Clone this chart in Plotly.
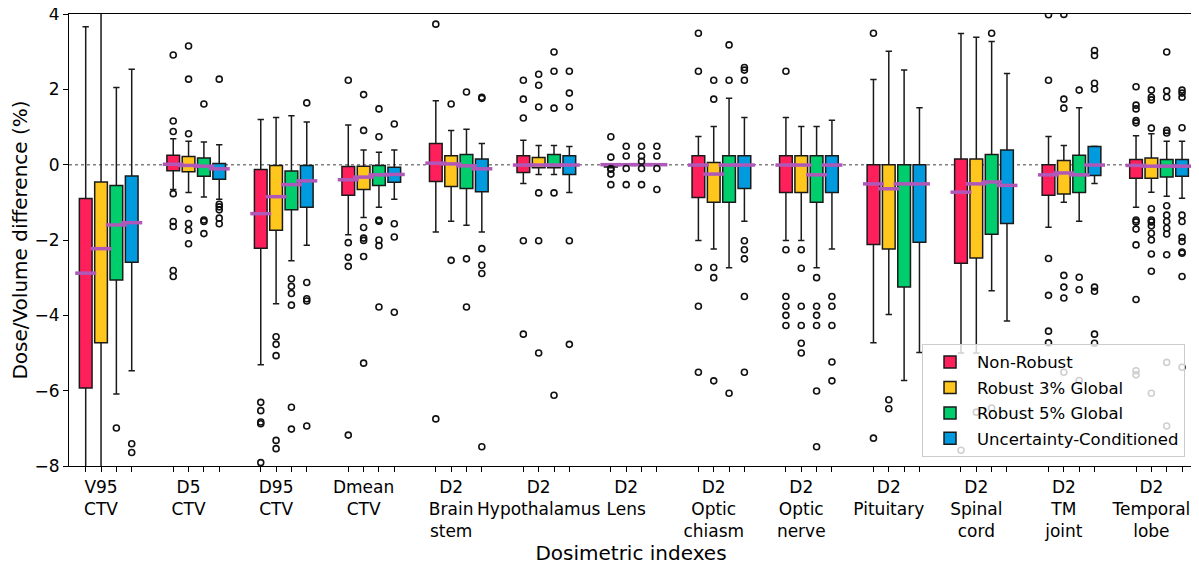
import plotly.graph_objects as go

categories = ["V95<br>CTV", "D5<br>CTV", "D95<br>CTV", "Dmean<br>CTV", "D2<br>Brain<br>stem",
              "D2<br>Hypothalamus", "D2<br>Lens", "D2<br>Optic<br>chiasm", "D2<br>Optic<br>nerve",
              "D2<br>Pituitary", "D2<br>Spinal<br>cord", "D2<br>TM<br>joint", "D2<br>Temporal<br>lobe"]

series_names = ["Non-Robust", "Robust 3% Global", "Robust 5% Global", "Uncertainty-Conditioned"]
series_colors = ["#FF1F5B", "#FFC61E", "#00CD6C", "#009ADE"]
median_color = "#AF58BA"

# Non-Robust
nr_hi = [3.66, 0.69, 1.20, 1.05, 1.70, 0.65, 0.0, 0.75, 1.25, 2.26, 3.48, 0.75, 0.77]
nr_q3 = [-0.90, 0.25, -0.13, -0.05, 0.56, 0.24, 0.0, 0.24, 0.24, 0.0, 0.15, 0.0, 0.14]
nr_med = [-2.88, 0.01, -1.30, -0.40, 0.04, -0.01, 0.0, -0.01, -0.01, -0.51, -0.73, -0.27, -0.02]
nr_q1 = [-5.93, -0.16, -2.22, -0.81, -0.45, -0.21, -0.06, -0.87, -0.74, -2.12, -2.62, -0.81, -0.36]
nr_lo = [-9.5, -0.66, -5.31, -1.86, -1.79, -0.50, -0.08, -2.01, -2.01, -4.73, -5.00, -1.66, -1.13]
nr_out = [[], [2.91, 1.16, 0.88, -0.77, -1.51, -1.64, -2.81, -2.97],
          [-6.31, -6.53, -6.83, -6.88, -7.91], [2.24, -2.07, -2.46, -2.70, -7.18],
          [3.73, -6.75], [2.24, 1.74, 1.24, -2.02, -4.50], [0.74, 0.20, -0.10, -0.12, -0.25, -0.53],
          [3.49, 2.48, -2.73, -3.76, -5.51], [2.48, -2.26, -3.50, -3.76, -4.00, -4.27],
          [3.49, -7.26], [-7.58], [3.98, 2.24, -2.49, -3.47, -4.42, -4.73],
          [2.07, 1.58, 1.48, 1.17, 1.11, -1.47, -1.52, -1.71, -2.13, -3.58, -5.47, -5.58]]

# Robust 3% Global
r3_hi = [5.0, 0.62, 1.25, 0.39, 0.91, 0.51, 0.0, 1.01, 1.01, 3.01, 3.38, 0.51, 0.82]
r3_q3 = [-0.46, 0.22, -0.02, -0.04, 0.24, 0.19, 0.0, 0.06, 0.24, 0.0, 0.15, 0.11, 0.18]
r3_med = [-2.23, -0.02, -0.85, -0.33, 0.02, -0.01, 0.0, -0.25, -0.01, -0.64, -0.51, -0.22, -0.04]
r3_q1 = [-4.73, -0.19, -1.74, -0.66, -0.58, -0.08, 0.0, -1.00, -0.74, -2.24, -2.48, -0.78, -0.36]
r3_lo = [-9.5, -0.74, -3.69, -1.40, -1.50, -0.26, 0.0, -2.24, -2.01, -3.98, -5.00, -1.00, -0.73]
r3_out = [[], [3.15, 2.27, 0.82, -1.18, -1.56, -1.74, -2.10],
          [-4.57, -4.77, -5.07, -7.32, -7.54], [1.86, 0.91, -1.67, -1.95, -2.01, -2.44, -5.27],
          [1.61, -2.54], [2.40, 2.11, 1.53, -0.75, -2.02, -5.00], [0.49, 0.23, -0.10, -0.53],
          [2.24, 1.74, -2.73, -3.00, -5.74], [-2.26, -2.75, -3.76, -4.27, -4.74, -5.00],
          [-6.24, -6.48], [-6.57], [3.99, 1.74, 1.50, -2.94, -3.25, -3.54, -5.51],
          [1.98, 1.79, 1.72, 0.97, -1.17, -1.47, -1.52, -1.62, -1.82, -2.00, -2.37, -2.83, -6.07]]

# Robust 5% Global
r5_hi = [2.05, 0.60, 1.30, 0.33, 0.94, 0.51, 0.0, 1.76, 1.01, 2.51, 3.27, 1.51, 0.62]
r5_q3 = [-0.55, 0.18, -0.17, -0.02, 0.27, 0.27, 0.0, 0.24, 0.24, 0.0, 0.27, 0.25, 0.14]
r5_med = [-1.60, -0.04, -0.53, -0.27, -0.03, -0.01, 0.0, -0.01, -0.27, -0.51, -0.46, -0.27, -0.04]
r5_q1 = [-3.06, -0.31, -1.20, -0.55, -0.63, -0.08, 0.0, -1.00, -1.00, -3.25, -1.85, -0.74, -0.33]
r5_lo = [-6.09, -0.86, -2.55, -1.13, -1.61, -0.26, 0.0, -2.74, -2.74, -5.73, -3.35, -1.50, -0.84]
r5_out = [[-6.99], [1.61, -1.47, -1.51, -1.83],
          [-3.03, -3.23, -3.42, -3.73, -6.44, -7.02], [1.48, 0.74, -1.47, -1.50, -2.00, -2.15, -3.78],
          [1.93, -2.50, -3.78], [2.99, 2.48, 1.50, -0.75, -6.12], [0.49, 0.23, 0.09, -0.10, -0.53],
          [3.18, 2.24, -6.07], [-3.00, -3.76, -4.00, -4.27, -6.01, -7.49],
          [], [3.49, -6.46], [1.98, -2.99, -3.32, -5.73],
          [2.99, 1.96, 1.79, 0.91, 0.84, -1.09, -1.34, -1.51, -1.69, -1.84, -2.39, -5.25, -6.94]]

# Uncertainty-Conditioned
uc_hi = [2.53, 0.53, 1.13, 0.39, 0.56, 0.48, 0.0, 1.25, 1.18, 1.51, 2.42, 0.49, 0.62]
uc_q3 = [-0.30, 0.03, -0.02, -0.07, 0.15, 0.24, 0.0, 0.24, 0.24, 0.0, 0.39, 0.48, 0.14]
uc_med = [-1.54, -0.11, -0.43, -0.26, -0.11, -0.01, 0.0, -0.01, -0.01, -0.51, -0.55, -0.01, -0.04]
uc_q1 = [-2.59, -0.39, -1.13, -0.47, -0.72, -0.26, 0.0, -0.63, -0.74, -2.06, -1.56, -0.29, -0.31]
uc_lo = [-5.47, -0.92, -2.14, -0.92, -1.79, -0.74, 0.0, -1.50, -2.24, -4.99, -4.15, -0.50, -0.89]
uc_out = [[-7.41, -7.64], [2.27, -1.05, -1.12, -1.20, -1.42, -1.57],
          [1.64, -3.13, -3.56, -3.62, -6.94], [1.08, -1.57, -1.92, -3.92],
          [1.79, 1.76, -2.23, -2.67, -2.89, -7.49], [2.48, 1.90, 1.53, -2.02, -4.77], [0.49, 0.23, -0.10, -0.66],
          [2.58, 2.51, 2.24, -2.02, -2.26, -2.50, -3.50, -5.51], [-3.50, -3.76, -4.27, -5.24, -5.74],
          [], [], [3.03, 2.90, 2.16, 2.01, -3.25, -3.36, -4.50, -4.74],
          [1.98, 1.90, 1.79, 0.98, -1.34, -1.51, -1.93, -2.04, -2.32, -2.35, -2.97, -5.38]]

y_ticks = [-8, -6, -4, -2, 0, 2, 4]

stats = [
    (nr_q1, nr_med, nr_q3, nr_lo, nr_hi, nr_out),
    (r3_q1, r3_med, r3_q3, r3_lo, r3_hi, r3_out),
    (r5_q1, r5_med, r5_q3, r5_lo, r5_hi, r5_out),
    (uc_q1, uc_med, uc_q3, uc_lo, uc_hi, uc_out),
]

FONT = "DejaVu Sans"
offset = 0.1752
box_w = 0.145
n = len(categories)

fig = go.Figure()

for s, (q1, med, q3, lo, hi, outs) in enumerate(stats):
    xs = [i + (s - 1.5) * offset for i in range(n)]
    fig.add_trace(go.Box(
        x=xs, q1=q1, median=med, q3=q3, lowerfence=lo, upperfence=hi,
        name=series_names[s], legendgroup=series_names[s],
        fillcolor=series_colors[s], line=dict(color="#1a1a1a", width=1.5),
        width=box_w, whiskerwidth=0.5, boxpoints=False, hoverinfo="skip",
    ))

for s, (q1, med, q3, lo, hi, outs) in enumerate(stats):
    xs = [i + (s - 1.5) * offset for i in range(n)]
    fig.add_trace(go.Scatter(
        x=xs, y=med, mode="markers", showlegend=False, hoverinfo="skip",
        marker=dict(symbol="line-ew", size=15, line=dict(color=median_color, width=3.5)),
    ))
    ox, oy = [], []
    for i in range(n):
        for v in outs[i]:
            ox.append(xs[i])
            oy.append(v)
    fig.add_trace(go.Scatter(
        x=ox, y=oy, mode="markers", showlegend=False, hoverinfo="skip",
        marker=dict(symbol="circle-open", size=6, color="#111111", line=dict(width=1.6)),
    ))

tick_pos = []
tick_txt = []
for i in range(n):
    for s in range(4):
        tick_pos.append(i + (s - 1.5) * offset)
        tick_txt.append(categories[i] if s == 1 else "")

fig.add_shape(type="line", xref="paper", x0=0, x1=1, yref="y", y0=0, y1=0,
              line=dict(color="#808080", width=1.5, dash="dot"), layer="below")

# page body has an 8px margin: figure is offset by 8px in x and y
fig.update_layout(
    width=1193, height=559,
    margin=dict(l=61, r=8, t=6, b=101, autoexpand=False),
    paper_bgcolor="white", plot_bgcolor="white",
    font=dict(family=FONT, size=17, color="black"),
    showlegend=True,
    legend=dict(
        x=0.9929, y=0.0204, xanchor="right", yanchor="bottom",
        bgcolor="rgba(255,255,255,0.8)", bordercolor="#cccccc", borderwidth=1,
        font=dict(family=FONT, size=16.5), tracegroupgap=1, itemwidth=44,
    ),
    xaxis=dict(
        range=[-0.4536, 12.388], tickmode="array", tickvals=tick_pos, ticktext=tick_txt,
        tickangle=0, ticks="outside", ticklen=5, tickwidth=1, tickcolor="black", automargin=False,
        showline=True, linecolor="black", linewidth=1.2, mirror=True, showgrid=False, zeroline=False,
        tickfont=dict(family=FONT, size=17), ticklabeloverflow="allow",
        title=dict(text="Dosimetric indexes", font=dict(family=FONT, size=20), standoff=4),
    ),
    yaxis=dict(
        range=[-8, 4], tickmode="array", tickvals=y_ticks, automargin=False,
        ticks="outside", ticklen=5, tickwidth=1, tickcolor="black",
        showline=True, linecolor="black", linewidth=1.2, mirror=True, showgrid=False, zeroline=False,
        tickfont=dict(family=FONT, size=17), ticklabeloverflow="allow",
        title=dict(text="Dose/Volume difference (%)", font=dict(family=FONT, size=20), standoff=8),
    ),
)

fig.write_html("out.html")
